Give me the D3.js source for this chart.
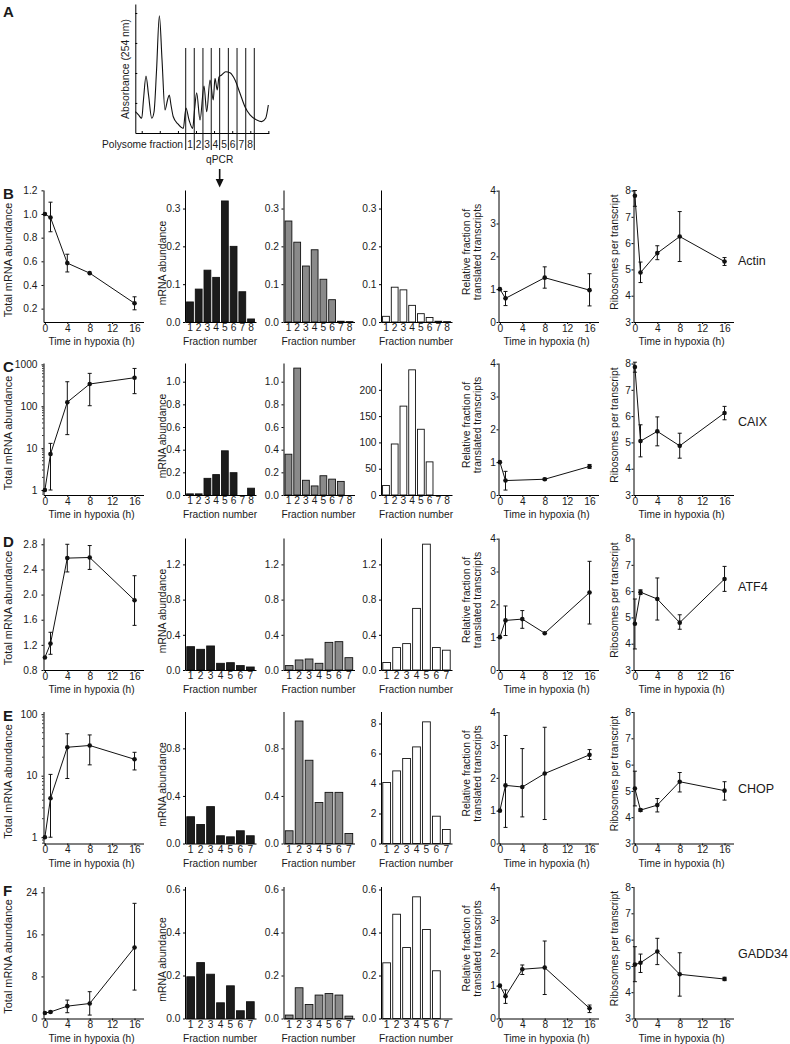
<!DOCTYPE html>
<html><head><meta charset="utf-8">
<script src="https://cdn.jsdelivr.net/npm/d3@7"></script>
<style>
body{margin:0;background:#fff}
svg{display:block;font-family:"Liberation Sans",Arial,Helvetica,sans-serif}
</style></head><body>
<svg id="fig" width="790" height="1044"></svg>
<script>
// ---------------- DATA ----------------
const hours = [0, 1, 4, 8, 16];
const timeTicks = [0, 4, 8, 12, 16];
const genes = ["Actin", "CAIX", "ATF4", "CHOP", "GADD34"];
const rowLetters = ["B", "C", "D", "E", "F"];

// Panel A absorbance profile
const absPos = [0,2.4,4.8,6.1,8,9.9,12.3,14,15.9,18,20,22.2,24.1,25.4,26.7,28.4,31.9,35.9,37.9,40.2,42.9,44.3,45.9,48.4,51.4,53.4,55.9,58.3,59.6,61.3,62.6,64.6,67.6,70.8,74.6,78.3,82,85.8,90.8,94.5,97.5,99.5];
const absVal = [16.5,14,11.4,25.6,44.2,29.5,11.4,16.3,48.8,90.9,56.6,17.8,25.6,29.5,21.7,12.6,7,3.6,19.4,10.1,3.6,17.8,31.2,10.1,36.4,16.5,41.1,25.6,42.4,33.3,43.4,45,47.5,46.7,41.1,30.8,20.4,14,10.1,8.8,11.4,21.7];
const fracBounds = [37.7,44.1,50.6,56.8,63.1,69.6,76.1,82.6,89.0];
const fracLabels = ["1","2","3","4","5","6","7","8"];
const absYTicks = [23.3,46.5,69.8,93];
const absXTicks = [4.8,18.3,31.9,45.4,58.9,72.5,86,99.5];

// Total mRNA abundance vs time
const totalVal = [[1.0,0.97,0.585,0.5,0.245],[1,7.2,125,340,480],[1.0,1.22,2.58,2.59,1.91],[1,4.3,29,31,18.5],[1.05,1.25,2.35,2.85,13.5]];
const totalLo  = [[1.0,0.85,0.51,0.5,0.19],[1,1,21,103,200],[1.0,1.05,2.36,2.40,1.51],[1,1.0,9,15,12.4],[1.05,1.1,1.1,0.65,5.4]];
const totalHi  = [[1.0,1.10,0.66,0.5,0.30],[1,13,385,610,800],[1.0,1.40,2.80,2.78,2.30],[1,10.5,48,46,24],[1.05,1.4,3.5,5.1,21.9]];
const totalLog = [false,true,false,true,false];
const totalDomain = [[0.087,1.203],[0.76,1079],[0.8,2.9],[0.79,110.6],[0,25.1]];
const totalTicks = [[0.2,0.4,0.6,0.8,1.0,1.2],[1,10,100,1000],[0.8,1.2,1.6,2.0,2.4,2.8],[1,10,100],[0,8,16,24]];
const totalFmt = [".1f","d",".1f","d","d"];

// Polysome distributions (black, gray, white)
const blackBars = [[0.053,0.087,0.137,0.118,0.32,0.2,0.08,0.008],[0.01,0.01,0.147,0.18,0.39,0.197,0,0.06],[0.265,0.235,0.273,0.076,0.083,0.05,0.034],[0.225,0.16,0.31,0.065,0.056,0.107,0.065],[0.194,0.26,0.206,0.073,0.152,0.036,0.078]];
const grayBars  = [[0.267,0.211,0.148,0.191,0.113,0.059,0.002,0.001],[0.36,1.12,0.13,0.08,0.17,0.14,0.12,0],[0.05,0.114,0.125,0.076,0.314,0.322,0.14],[0.107,1.03,0.70,0.345,0.43,0.43,0.084],[0.016,0.143,0.065,0.109,0.116,0.109,0.011]];
const whiteBars = [[0.015,0.092,0.085,0.044,0.022,0.012,0.002,0.001],[18,97,169,238,125,63,0,0],[0.085,0.255,0.3,0.7,1.43,0.255,0.225],[4.07,4.84,5.67,6.44,8.11,1.82,0.93],[0.259,0.485,0.33,0.566,0.414,0.222,0]];
const barMax = [0.349,1.165,1.5,1.11,0.614];
const barTicks = [[0,0.1,0.2,0.3],[0,0.2,0.4,0.6,0.8,1.0],[0,0.4,0.8,1.2],[0,0.4,0.8],[0,0.2,0.4,0.6]];
const whiteMax = [0.349,251,1.5,8.8,0.614];
const whiteTicks = [[0,0.1,0.2,0.3],[0,50,100,150,200],[0,0.4,0.8,1.2],[0,2,4,6,8],[0,0.2,0.4,0.6]];
const whiteFmt = [".1f","d",".1f","d",".1f"];

// Relative fraction of translated transcripts
const relHours = [[0,1,8,16],[0,1,8,16],[0,1,4,8,16],[0,1,4,8,16],[0,1,4,8,16]];
const relVal = [[1,0.72,1.35,0.97],[1,0.44,0.48,0.87],[1,1.51,1.55,1.12,2.36],[1,1.77,1.72,2.13,2.70],[1,0.68,1.5,1.55,0.31]];
const relLo  = [[1,0.5,1.03,0.49],[1,0.15,0.45,0.81],[1,1.05,1.27,1.12,1.40],[1,0.49,0.81,0.73,2.56],[1,0.46,1.34,0.73,0.18]];
const relHi  = [[1,0.93,1.68,1.47],[1,0.72,0.51,0.93],[1,1.95,1.81,1.12,3.31],[1,3.29,2.89,3.54,2.86],[1,0.87,1.63,2.36,0.41]];
const relTicks = [0,1,2,3,4];

// Ribosomes per transcript
const riboVal = [[7.8,4.88,5.62,6.25,5.3],[7.87,5.05,5.42,4.87,6.12],[4.76,5.96,5.7,4.8,6.46],[5.09,4.27,4.46,5.35,5.01],[5.05,5.12,5.55,4.68,4.5]];
const riboLo  = [[7.4,4.5,5.37,5.3,5.15],[7.67,4.45,4.87,4.4,5.86],[3.8,5.87,4.9,4.55,5.99],[4.43,4.22,4.2,4.96,4.65],[4.4,4.75,5.05,3.85,4.44]];
const riboHi  = [[8.0,5.28,5.9,7.2,5.45],[8.05,5.67,5.97,5.35,6.37],[5.7,6.05,6.5,5.1,6.94],[5.75,4.32,4.71,5.7,5.35],[5.73,5.45,6.05,5.5,4.57]];
const riboTicks = [3,4,5,6,7,8];

// ---------------- LAYOUT ----------------
const FONT = "Liberation Sans, Arial, Helvetica, sans-serif";
const TXT = "#1a1a1a";
const colX = [43.5, 185, 283.5, 381, 498.5, 633.5];
const lineW = 100, barW = 71, H = 132;
const rowBottom = [322, 495, 670, 843.5, 1018.5];
const geneDy = [-57.5, -69.5, -79.5, -51, -61];

const svg = d3.select("#fig");

function styleAxis(g){
  g.attr("font-family", FONT).attr("font-size", 10.2);
  g.select(".domain").attr("stroke", "#000").attr("stroke-width", 1);
  g.selectAll(".tick line").attr("stroke", "#000");
  g.selectAll(".tick text").attr("fill", TXT);
}
function txt(x, y, s, opt = {}){
  const t = svg.append("text").attr("x", x).attr("y", y).text(s)
    .attr("font-size", opt.size || 10.2).attr("fill", TXT)
    .attr("text-anchor", opt.anchor || "middle");
  if (opt.bold) t.attr("font-weight", "bold");
  return t;
}
function rotText(x, y, s, size){
  return svg.append("text").attr("transform", `translate(${x},${y}) rotate(-90)`)
    .attr("text-anchor", "middle").attr("font-size", size || 10.4).attr("fill", TXT).text(s);
}

function linePanel(x0, bottom, xs, vals, lo, hi, yScale, ticks, fmt, pad){
  const x = d3.scaleLinear().domain([-0.25, 17.6]).range([x0, x0 + lineW]);
  const y = yScale.range([bottom, bottom - H]);
  const g = svg.append("g");
  g.append("g").attr("transform", `translate(${x0},0)`)
    .call(d3.axisLeft(y).tickValues(ticks).tickSize(2).tickSizeOuter(0).tickPadding(pad).tickFormat(d3.format(fmt)))
    .call(styleAxis);
  g.append("g").attr("transform", `translate(0,${bottom})`)
    .call(d3.axisBottom(x).tickValues(timeTicks).tickSize(2).tickSizeOuter(0).tickPadding(0.5))
    .call(styleAxis);
  const pts = xs.map((t, i) => ({t, v: vals[i], lo: lo[i], hi: hi[i]}));
  g.append("path").datum(pts).attr("fill", "none").attr("stroke", "#111").attr("stroke-width", 1)
    .attr("d", d3.line().x(d => x(d.t)).y(d => y(d.v)));
  const eb = g.selectAll(".eb").data(pts.filter(d => Math.abs(y(d.hi) - y(d.lo)) > 1.5)).enter().append("g");
  eb.append("line").attr("x1", d => x(d.t)).attr("x2", d => x(d.t)).attr("y1", d => y(d.lo)).attr("y2", d => y(d.hi)).attr("stroke", "#111");
  eb.append("line").attr("x1", d => x(d.t) - 2).attr("x2", d => x(d.t) + 2).attr("y1", d => y(d.lo)).attr("y2", d => y(d.lo)).attr("stroke", "#111");
  eb.append("line").attr("x1", d => x(d.t) - 2).attr("x2", d => x(d.t) + 2).attr("y1", d => y(d.hi)).attr("y2", d => y(d.hi)).attr("stroke", "#111");
  g.selectAll("circle").data(pts).enter().append("circle")
    .attr("cx", d => x(d.t)).attr("cy", d => y(d.v)).attr("r", 2.3).attr("fill", "#111");
  txt(x0 + 48, bottom + 23, "Time in hypoxia (h)");
  return {g, x, y};
}

function barPanel(x0, bottom, vals, ymax, ticks, fmt, fill){
  const n = vals.length;
  const x = d3.scaleBand().domain(d3.range(1, n + 1)).range([x0, x0 + barW]).paddingInner(0.22).paddingOuter(0.18);
  const y = d3.scaleLinear().domain([0, ymax]).range([bottom, bottom - H]);
  const g = svg.append("g");
  g.selectAll("rect").data(vals).enter().append("rect")
    .attr("x", (d, i) => x(i + 1)).attr("width", x.bandwidth())
    .attr("y", d => y(d)).attr("height", d => bottom - y(d))
    .attr("fill", fill).attr("stroke", "#111").attr("stroke-width", 0.9);
  g.append("g").attr("transform", `translate(${x0},0)`)
    .call(d3.axisLeft(y).tickValues(ticks).tickSize(2).tickSizeOuter(0).tickPadding(2.5).tickFormat(d3.format(fmt)))
    .call(styleAxis);
  g.append("g").attr("transform", `translate(0,${bottom})`)
    .call(d3.axisBottom(x).tickSize(0).tickSizeOuter(0).tickPadding(2))
    .call(styleAxis);
  txt(x0 + 35, bottom + 23, "Fraction number");
}

// ---------------- PANEL A ----------------
(function(){
  const xA = d3.scaleLinear().domain([0, 100]).range([135.3, 269]);
  const yA = d3.scaleLinear().domain([0, 100]).range([133, 4]);
  svg.append("g").attr("transform", "translate(135.3,0)")
    .call(d3.axisLeft(yA).tickValues(absYTicks).tickSize(-2).tickSizeOuter(0).tickFormat(""))
    .call(styleAxis);
  svg.append("g").attr("transform", "translate(0,133)")
    .call(d3.axisBottom(xA).tickValues(absXTicks).tickSize(-2).tickSizeOuter(0).tickFormat(""))
    .call(styleAxis);
  const pts = absPos.map((p, i) => [p, absVal[i]]);
  svg.append("path").datum(pts).attr("fill", "none").attr("stroke", "#111").attr("stroke-width", 1.1)
    .attr("d", d3.line().x(d => xA(d[0])).y(d => yA(d[1])).curve(d3.curveMonotoneX));
  svg.selectAll(".fb").data(fracBounds).enter().append("line")
    .attr("x1", d => xA(d)).attr("x2", d => xA(d)).attr("y1", yA(65.9)).attr("y2", yA(-13.2))
    .attr("stroke", "#111").attr("stroke-width", 1);
  fracLabels.forEach((l, i) => txt(xA((fracBounds[i] + fracBounds[i + 1]) / 2), 148, l));
  txt(183, 148, "Polysome fraction", {anchor: "end"});
  const qx = xA(fracBounds[4]);
  txt(qx, 163, "qPCR");
  svg.append("line").attr("x1", qx).attr("x2", qx).attr("y1", 169).attr("y2", 180).attr("stroke", "#111").attr("stroke-width", 1.6);
  svg.append("path").attr("d", `M${qx - 4},179 L${qx + 4},179 L${qx},187.5 Z`).attr("fill", "#111");
  rotText(128.5, 69, "Absorbance (254 nm)");
  txt(3, 17, "A", {size: 15, bold: true, anchor: "start"});
})();

// ---------------- ROWS B-F ----------------
genes.forEach((gene, r) => {
  const bottom = rowBottom[r];
  const mid = bottom - H / 2;
  txt(3, bottom - H + 9, rowLetters[r], {size: 15, bold: true, anchor: "start"});

  // total mRNA
  const ys = totalLog[r] ? d3.scaleLog().domain(totalDomain[r]) : d3.scaleLinear().domain(totalDomain[r]);
  const p = linePanel(colX[0], bottom, hours, totalVal[r], totalLo[r], totalHi[r], ys, totalTicks[r], totalFmt[r], 4);
  if (totalLog[r]) {
    const [d0, d1] = totalDomain[r];
    const minor = [];
    for (let e = Math.floor(Math.log10(d0)); e <= Math.ceil(Math.log10(d1)); e++)
      for (let m = 2; m <= 9; m++) { const v = m * Math.pow(10, e); if (v > d0 && v < d1) minor.push(v); }
    p.g.selectAll(".minor").data(minor).enter().append("line")
      .attr("x1", colX[0] - 1.5).attr("x2", colX[0]).attr("y1", d => p.y(d)).attr("y2", d => p.y(d))
      .attr("stroke", "#000").attr("stroke-width", 0.8);
  }
  rotText(12, mid + 4, "Total mRNA abundance", 10.9);

  // polysome distributions
  barPanel(colX[1], bottom, blackBars[r], barMax[r], barTicks[r], ".1f", "#1c1c1c");
  barPanel(colX[2], bottom, grayBars[r], barMax[r], barTicks[r], ".1f", "#8a8a8a");
  barPanel(colX[3], bottom, whiteBars[r], whiteMax[r], whiteTicks[r], whiteFmt[r], "#ffffff");
  rotText(166, mid + 7, "mRNA abundance");

  // relative fraction
  linePanel(colX[4], bottom, relHours[r], relVal[r], relLo[r], relHi[r], d3.scaleLinear().domain([0, 4.02]), relTicks, "d", 0.5);
  rotText(470, mid - 4, "Relative fraction of");
  rotText(480.5, mid - 4, "translated transcripts");

  // ribosomes per transcript
  linePanel(colX[5], bottom, hours, riboVal[r], riboLo[r], riboHi[r], d3.scaleLinear().domain([3, 8.02]), riboTicks, "d", 0.5);
  rotText(618, mid - 4, "Ribosomes per transcript");

  txt(738, bottom + geneDy[r], gene, {size: 12.5, anchor: "start"});
});
</script>
</body></html>
